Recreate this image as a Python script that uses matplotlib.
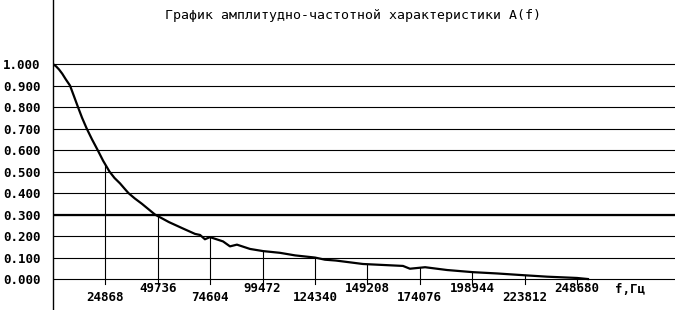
import numpy as np
import matplotlib
matplotlib.use("Agg")
from matplotlib import pyplot as plt

# amplitude-frequency response A(f)
freq = [0, 1400, 2850, 4400, 6000, 8070, 9970, 11850, 13800, 16000,
        18500, 21200, 23800, 26800, 29200, 31800, 34000, 35800, 38800,
        42200, 48400, 55000, 61700, 67400, 69800, 72100, 74500, 80700,
        84000, 87300, 93500, 99700, 107700, 114900, 124300, 129100,
        134300, 147100, 166100, 169400, 176600, 187000, 199300, 210700,
        223100, 234500, 248700, 253900]
ampl = [1.0, 0.99, 0.975, 0.955, 0.93, 0.90, 0.85, 0.80, 0.75, 0.70,
        0.65, 0.60, 0.55, 0.50, 0.47, 0.445, 0.42, 0.40, 0.375,
        0.35, 0.30, 0.265, 0.235, 0.21, 0.205, 0.185, 0.195, 0.175,
        0.152, 0.16, 0.14, 0.13, 0.122, 0.11, 0.10, 0.09,
        0.086, 0.07, 0.061, 0.048, 0.055, 0.042, 0.032, 0.026,
        0.018, 0.011, 0.005, 0.0]

tick_freq = [24868, 49736, 74604, 99472, 124340, 149208, 174076,
             198944, 223812, 248680]
y_ticks = [0.0, 0.1, 0.2, 0.3, 0.4, 0.5, 0.6, 0.7, 0.8, 0.9, 1.0]
level = 0.3

title = "График амплитудно-частотной характеристики A(f)"
xlabel = "f,Гц"

mono = "DejaVu Sans Mono"

fig = plt.figure(figsize=(6.75, 3.1), dpi=100)
ax = fig.add_axes([53 / 675, 0, 622 / 675, 1])
ax.set_xlim(0, 295200)
ax.set_ylim(-0.144, 1.298)

for s in ["top", "right", "bottom"]:
    ax.spines[s].set_visible(False)
ax.spines["left"].set_linewidth(1.0)
ax.spines["left"].set_color("black")

# horizontal grid lines
for y in y_ticks:
    ax.axhline(y, color="black", lw=0.8, zorder=1)
ax.axhline(level, color="black", lw=1.6, zorder=1)

ax.set_yticks(y_ticks)
ax.set_yticklabels(["%.3f" % y for y in y_ticks], fontfamily=mono,
                   fontweight="bold", fontsize=9)
ax.tick_params(axis="y", length=0, pad=9)
ax.set_xticks([])

# curve
ax.plot(freq, ampl, color="black", lw=1.6, zorder=3)

# vertical lines from the curve down to the axis + labels
for i, f in enumerate(tick_freq):
    top = np.interp(f, freq, ampl)
    ax.plot([f, f], [top, -0.025], color="black", lw=0.8, zorder=2)
    ylab = -0.088 if i % 2 == 0 else -0.042
    ax.text(f, ylab, str(f), ha="center", va="center", fontfamily=mono,
            fontweight="bold", fontsize=9)

ax.text(273800, -0.05, xlabel, ha="center", va="center", fontfamily=mono,
        fontweight="bold", fontsize=9)

fig.text(353 / 675, 1 - 15 / 310, title, ha="center", va="center",
         fontfamily=mono, fontsize=9.5)

fig.savefig("out.png", dpi=100)
